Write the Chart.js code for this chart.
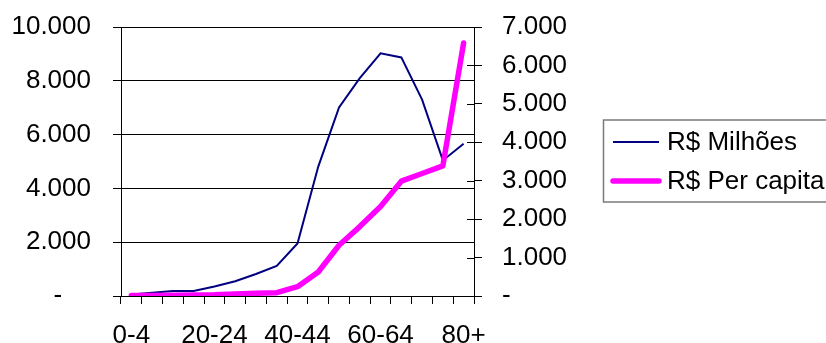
<!DOCTYPE html>
<html>
<head>
<meta charset="utf-8">
<script src="https://cdn.jsdelivr.net/npm/chart.js@4.4.1/dist/chart.umd.min.js"></script>
<style>
  html, body { margin: 0; padding: 0; background: #fff; }
  canvas { display: block; }
</style>
</head>
<body>
<canvas id="chart" width="826" height="343"></canvas>
<script>
// Faixas etárias
const categories = ['0-4', '5-9', '10-14', '15-19', '20-24', '25-29', '30-34', '35-39',
  '40-44', '45-49', '50-54', '55-59', '60-64', '65-69', '70-74', '75-79', '80+'];

// R$ Milhões (eixo esquerdo)
const milhoes = [60, 120, 190, 190, 350, 550, 820, 1120, 1950, 4810, 7010, 8100, 9020, 8870, 7300, 5040, 5660];

// R$ Per capita (eixo direito)
const perCapita = [10, 15, 20, 25, 30, 50, 70, 87, 243, 625, 1320, 1806, 2328, 2988, 3187, 3387, 6583];

// Eixos
const leftTicks = [0, 2000, 4000, 6000, 8000, 10000];
const rightTicks = [0, 1000, 2000, 3000, 4000, 5000, 6000, 7000];
const labelEvery = 4;

const FONT = "'Liberation Sans', Arial, sans-serif";
const fmt = v => v === 0 ? '-' : String(v).replace(/\B(?=(\d{3})+(?!\d))/g, '.');

// Marcas do eixo direito que cruzam a linha do eixo
const innerTicks = {
  id: 'innerTicks',
  afterDraw(chart) {
    const s = chart.scales.y1, ctx = chart.ctx, r = chart.chartArea.right;
    ctx.save();
    ctx.strokeStyle = '#000';
    ctx.lineWidth = 1;
    s.ticks.forEach(t => {
      const y = Math.round(s.getPixelForValue(t.value)) + 0.5;
      ctx.beginPath();
      ctx.moveTo(r - 7, y);
      ctx.lineTo(r, y);
      ctx.stroke();
    });
    ctx.restore();
  }
};

// Legenda com moldura
const boxLegend = {
  id: 'boxLegend',
  afterDraw(chart) {
    const ctx = chart.ctx;
    const ds = chart.data.datasets;
    ctx.save();
    ctx.strokeStyle = '#7a7a7a';
    ctx.lineWidth = 1.5;
    ctx.strokeRect(603.5, 120, 280, 82);
    const rows = [142, 181];
    ds.forEach((d, i) => {
      ctx.beginPath();
      ctx.strokeStyle = d.borderColor;
      ctx.lineWidth = d.borderWidth;
      ctx.lineCap = i === 0 ? 'butt' : 'round';
      ctx.moveTo(613, rows[i]);
      ctx.lineTo(659, rows[i]);
      ctx.stroke();
      ctx.fillStyle = '#000';
      ctx.font = '26px ' + FONT;
      ctx.textBaseline = 'middle';
      ctx.textAlign = 'left';
      ctx.fillText(d.label, 667, rows[i] + 1);
    });
    ctx.restore();
  }
};

// Largura fixa dos eixos verticais, sem folga extra acima/abaixo
const fixWidth = w => s => { s.width = w; s.paddingTop = 0; s.paddingBottom = 0; };

new Chart(document.getElementById('chart'), {
  type: 'line',
  data: {
    labels: categories,
    datasets: [
      {
        label: 'R$ Milhões',
        data: milhoes,
        yAxisID: 'y',
        borderColor: '#000080',
        borderWidth: 2,
        pointRadius: 0,
        tension: 0,
        order: 1
      },
      {
        label: 'R$ Per capita',
        data: perCapita,
        yAxisID: 'y1',
        borderColor: '#ff00ff',
        borderWidth: 5.5,
        borderJoinStyle: 'round',
        borderCapStyle: 'round',
        pointRadius: 0,
        tension: 0,
        order: 0
      }
    ]
  },
  options: {
    responsive: false,
    animation: false,
    devicePixelRatio: 1,
    layout: { padding: { top: 27, right: 0, bottom: 0, left: 0 } },
    plugins: {
      legend: { display: false },
      tooltip: { enabled: false }
    },
    scales: {
      x: {
        offset: true,
        grid: { offset: true, drawOnChartArea: false, drawTicks: true, tickLength: 8, color: '#000' },
        border: { display: true, color: '#000', width: 1 },
        ticks: {
          autoSkip: false,
          maxRotation: 0,
          padding: 16,
          color: '#000',
          font: { family: FONT, size: 26 },
          callback: (v, i) => i % labelEvery === 0 ? categories[i] : ''
        },
        afterFit: s => { s.height = 47; s.paddingLeft = 0; s.paddingRight = 0; }
      },
      y: {
        position: 'left',
        min: leftTicks[0],
        max: leftTicks[leftTicks.length - 1],
        afterBuildTicks: s => { s.ticks = leftTicks.map(v => ({ value: v })); },
        grid: { color: '#000', lineWidth: 1, drawTicks: true, tickLength: 8 },
        border: { display: true, color: '#000', width: 1 },
        ticks: {
          padding: 22,
          color: '#000',
          font: { family: FONT, size: 26 },
          callback: v => v === 0 ? '-\u2007\u2007' : fmt(v)
        },
        afterFit: fixWidth(121)
      },
      y1: {
        position: 'right',
        min: rightTicks[0],
        max: rightTicks[rightTicks.length - 1],
        afterBuildTicks: s => { s.ticks = rightTicks.map(v => ({ value: v })); },
        grid: { drawOnChartArea: false, color: '#000', drawTicks: true, tickLength: 8 },
        border: { display: true, color: '#000', width: 1 },
        ticks: {
          padding: 20,
          color: '#000',
          font: { family: FONT, size: 26 },
          callback: v => fmt(v)
        },
        afterFit: fixWidth(352)
      }
    }
  },
  plugins: [innerTicks, boxLegend]
});
</script>
</body>
</html>
